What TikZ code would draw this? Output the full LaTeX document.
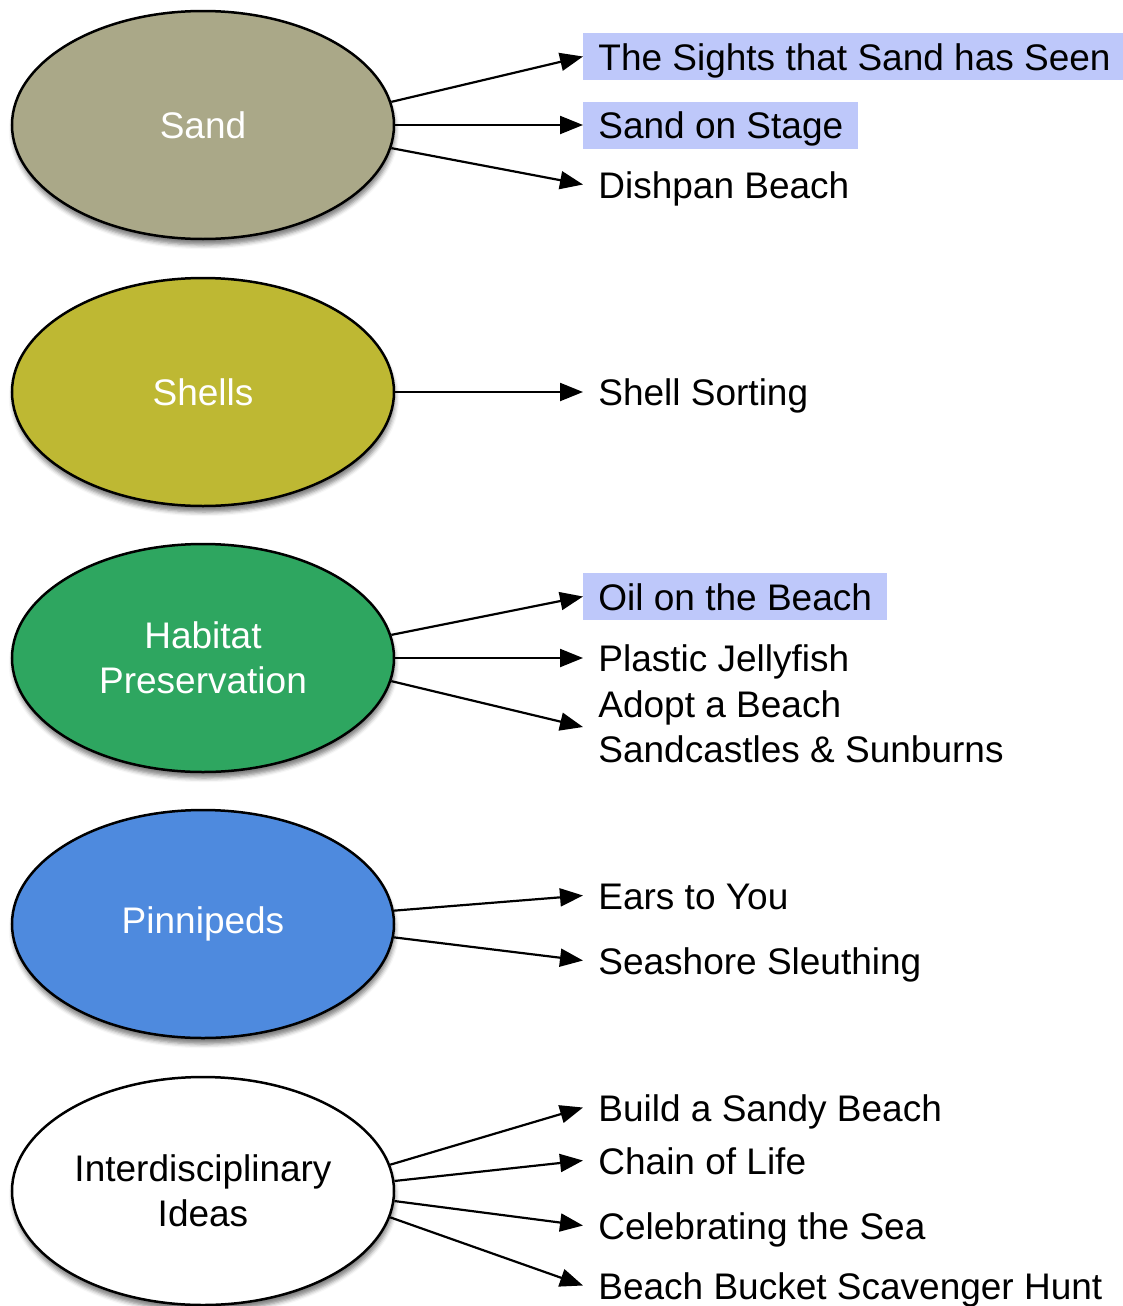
\documentclass[tikz,border=0pt]{standalone}
\usepackage{fontspec}
\setmainfont{Liberation Sans}
\usetikzlibrary{arrows.meta,shapes.geometric,shadows.blur}

\definecolor{sandfill}{RGB}{170,168,136}
\definecolor{shellfill}{RGB}{190,184,51}
\definecolor{habitatfill}{RGB}{46,166,96}
\definecolor{pinnfill}{RGB}{78,138,222}
\definecolor{markfill}{RGB}{190,200,250}

\tikzstyle{topic}=[ellipse, draw=black, line width=1.25pt, minimum width=191pt, minimum height=114pt, inner sep=0pt, align=center, font=\fontsize{18.5}{22.5}\selectfont, blur shadow={shadow xshift=0.5pt, shadow yshift=-3pt, shadow opacity=50}]
\tikzstyle{labeltext}=[inner xsep=7.5pt, inner ysep=0pt, font=\fontsize{18.5}{22.5}\selectfont]
\tikzstyle{idea}=[labeltext, anchor=base west, text height=18.5pt, text depth=5pt]
\tikzstyle{marked}=[fill=markfill]
\tikzstyle{plain}=[]
\tikzstyle{link}=[draw, line width=1.1pt, -{Triangle[length=11.5pt,width=9pt]}]

\begin{document}
\begin{tikzpicture}[x=0.5pt, y=-0.5pt]
	\useasboundingbox (0,0) rectangle (1123,1306);
	% topics
	\foreach \pos/\name/\col/\tcol/\txt in {{(203,125)/sand/sandfill/white/Sand}, {(203,392)/shells/shellfill/white/Shells}, {(203,658)/habitat/habitatfill/white/{Habitat\\Preservation}}, {(203,924)/pinnipeds/pinnfill/white/Pinnipeds}, {(203,1191)/inter/white/black/{Interdisciplinary\\Ideas}}}
		\node[topic, fill=\col, text=\tcol] (\name) at \pos {\txt};
	% activities
	\foreach \pos/\name/\sty/\txt in {{(583,70)/sights/marked/The Sights that Sand has Seen}, {(583,138.5)/stage/marked/Sand on Stage}, {(583,198)/dishpan/plain/Dishpan Beach}, {(583,405.5)/sorting/plain/Shell Sorting}, {(583,610)/oil/marked/Oil on the Beach}, {(583,671.5)/jelly/plain/Plastic Jellyfish}, {(583,909)/ears/plain/Ears to You}, {(583,974)/sleuth/plain/Seashore Sleuthing}, {(583,1121)/build/plain/Build a Sandy Beach}, {(583,1174)/chain/plain/Chain of Life}, {(583,1239)/celebrate/plain/Celebrating the Sea}, {(583,1299)/bucket/plain/Beach Bucket Scavenger Hunt}}
		\node[idea, \sty] (\name) at \pos {\txt};
	\node[labeltext, anchor=west, align=left] (adopt) at (583,727) {Adopt a Beach\\Sandcastles \& Sunburns};
	% links
	\foreach \source/\dest in {sand.7/sights, sand.0/stage, sand.-7/dishpan, shells.0/sorting, habitat.7/oil, habitat.0/jelly, habitat.-7/adopt, pinnipeds.4/ears, pinnipeds.-4/sleuth, inter.8/build, inter.3/chain, inter.-3/celebrate, inter.-8/bucket}
		\path[link] (\source) -- (\dest.west);
\end{tikzpicture}
\end{document}
